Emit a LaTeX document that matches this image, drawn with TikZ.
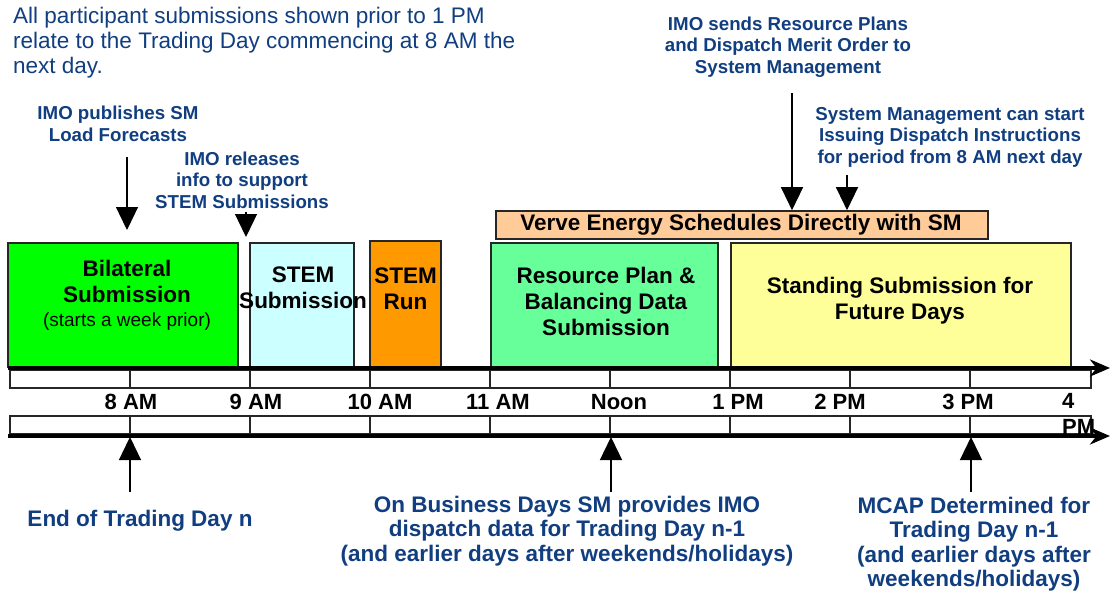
\documentclass[tikz,border=0pt]{standalone}
\usepackage{fontspec}
\setmainfont{Liberation Sans}
\usepackage{tikz}
\usetikzlibrary{arrows.meta,calc}
\definecolor{imoblue}{RGB}{16,62,128}
\definecolor{bilatgreen}{RGB}{0,255,0}
\definecolor{stemcyan}{RGB}{204,255,255}
\definecolor{stemorange}{RGB}{255,153,0}
\definecolor{resgreen}{RGB}{102,255,153}
\definecolor{standyellow}{RGB}{255,255,153}
\definecolor{vervepeach}{RGB}{255,204,153}

\begin{document}
\begin{tikzpicture}[x=1pt,y=-1pt,
  phase/.style={draw=black!85,line width=1.6pt,inner sep=0pt},
  boxlbl/.style={align=center,font=\fontsize{22.5}{26}\selectfont\bfseries,inner sep=0pt},
  note/.style={align=center,text=imoblue,font=\fontsize{18.7}{21.5}\selectfont\bfseries,inner sep=0pt},
  lownote/.style={align=center,text=imoblue,font=\fontsize{22.5}{24.5}\selectfont\bfseries,inner sep=0pt},
  hour/.style={font=\fontsize{22}{26}\selectfont\bfseries,inner sep=0pt},
  pointer/.style={line width=1.3pt,-{Triangle[length=23pt,width=22pt]}},
  axis/.style={line width=4pt,-{Stealth[length=20pt,width=17pt]}},
  cell/.style={draw=black!85,line width=1.3pt,fill=white}]
\useasboundingbox[fill=white] (0,0) rectangle (1110,594);

\node[anchor=west,align=left,text=imoblue,font=\fontsize{22.5}{25}\selectfont,inner sep=0pt] (remark) at (13,43)
  {All participant submissions shown prior to 1 PM\\relate to the Trading Day commencing at 8 AM the\\next day.};

% phases
\node[phase,fill=bilatgreen,minimum width=230pt,minimum height=124pt] (bilat) at (123,305) {};
\node[phase,fill=stemcyan,minimum width=104pt,minimum height=124pt] (stemsub) at (302,305) {};
\node[phase,fill=stemorange,minimum width=71pt,minimum height=126pt] (stemrun) at (405.5,304) {};
\node[phase,fill=resgreen,minimum width=227pt,minimum height=124pt] (resplan) at (604.5,305) {};
\node[phase,fill=standyellow,minimum width=340pt,minimum height=124pt] (standing) at (901,305) {};
\node[phase,fill=vervepeach,minimum width=492pt,minimum height=28pt] (verve) at (742,225) {};

\node[boxlbl] (bilatlbl) at (127,295) {Bilateral\\Submission\\[-2pt]{\fontsize{19}{22}\selectfont\mdseries(starts a week prior)}};
\node[boxlbl] (stemsublbl) at (303,288) {STEM\\Submission};
\node[boxlbl] (stemrunlbl) at (405.5,289) {STEM\\Run};
\node[boxlbl] (resplanlbl) at (606,301) {Resource Plan \&\\Balancing Data\\Submission};
\node[boxlbl] (standinglbl) at (900,301) {Standing Submission for\\Future Days};
\node[boxlbl,font=\fontsize{22.5}{24}\selectfont\bfseries] (vervelbl) at (741,225) {Verve Energy Schedules Directly with SM};

% time axes
\draw[cell] (10,370) rectangle (1091,388);
\draw[cell] (10,416) rectangle (1091,434);
\foreach \x in {130,250,...,970}
  \draw[black!85,line width=1.3pt] (\x,370) -- (\x,388) (\x,416) -- (\x,434);
\coordinate (upstart) at (8,368);
\coordinate (upend) at (1110,368);
\coordinate (lostart) at (8,436);
\coordinate (loend) at (1110,436);
\draw[axis] (upstart) -- (upend);
\draw[axis] (lostart) -- (loend);

\foreach \x/\t in {131/8 AM,256/9 AM,380/10 AM,498/11 AM,619/Noon,738/1 PM,840/2 PM,968/3 PM}
  \node[hour] (h\x) at (\x,402) {\t};
\node[hour,anchor=north west,align=left] (h4pm) at (1062,393) {4\\PM};

% notes above
\node[note] (pubnote) at (118,124) {IMO publishes SM\\Load Forecasts};
\node[note] (relnote) at (242,180) {IMO releases\\info to support\\STEM Submissions};
\node[note] (sendnote) at (788,47) {IMO sends Resource Plans\\and Dispatch Merit Order to\\System Management};
\node[note] (startnote) at (950,137) {System Management can start\\Issuing Dispatch Instructions\\for period from 8 AM next day};

\coordinate (pubtop) at (127,157);
\coordinate (pubtip) at (127,230);
\coordinate (reltop) at (246,212);
\coordinate (reltip) at (246,237);
\coordinate (sendtop) at (792,93);
\coordinate (starttop) at (847,175);
\draw[pointer] (pubtop) -- (pubtip);
\draw[pointer] (reltop) -- (reltip);
\draw[pointer] (sendtop) -- (sendtop |- verve.north);
\draw[pointer] (starttop) -- (starttop |- verve.north);

% notes below
\node[lownote] (eodnote) at (140,521) {End of Trading Day n};
\node[lownote] (dispnote) at (567,531) {On Business Days SM provides IMO\\dispatch data for Trading Day n-1\\(and earlier days after weekends/holidays)};
\node[lownote] (mcapnote) at (974,544) {MCAP Determined for\\Trading Day n-1\\(and earlier days after\\weekends/holidays)};

\coordinate (eodfoot) at (130,492);
\coordinate (dispfoot) at (611,492);
\coordinate (mcapfoot) at (971,492);
\draw[pointer] (eodfoot) -- (eodfoot |- 0,437);
\draw[pointer] (dispfoot) -- (dispfoot |- 0,437);
\draw[pointer] (mcapfoot) -- (mcapfoot |- 0,437);
\end{tikzpicture}
\end{document}
